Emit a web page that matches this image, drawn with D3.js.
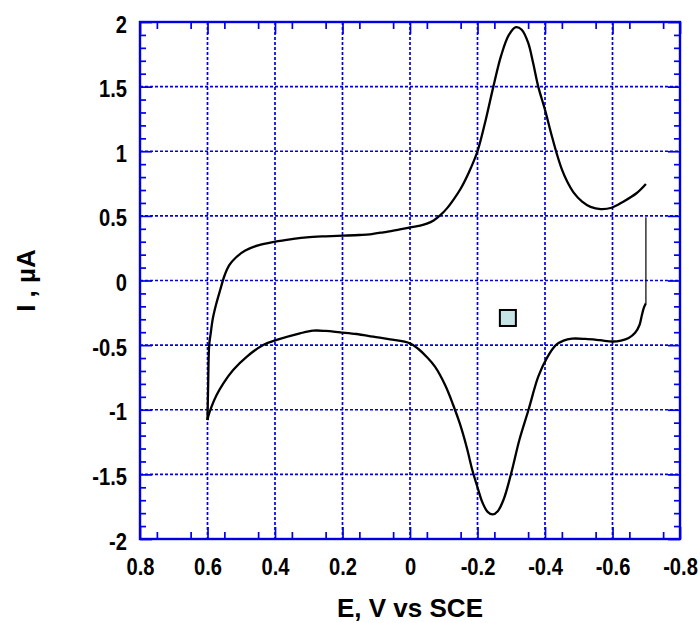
<!DOCTYPE html>
<html>
<head>
<meta charset="utf-8">
<script src="https://cdn.jsdelivr.net/npm/d3@7"></script>
<style>
  body { margin: 0; background: #fff; }
  svg text { font-family: "Liberation Sans", Arial, sans-serif; font-weight: bold; fill: #000; }
</style>
</head>
<body>
<div id="chart"></div>
<script>
// forward scan (0.6 V -> -0.7 V), potential and current
const fwdE = [0.600, 0.598, 0.595, 0.590, 0.585, 0.575, 0.562, 0.550, 0.535, 0.515, 0.488, 0.450,
  0.400, 0.350, 0.306, 0.250, 0.198, 0.150, 0.119, 0.079, 0.030, 0.000, -0.030, -0.050,
  -0.070, -0.090, -0.110, -0.130, -0.150, -0.175, -0.200, -0.225, -0.247, -0.270, -0.293,
  -0.314, -0.331, -0.350, -0.365, -0.380, -0.400, -0.420, -0.435, -0.450, -0.465, -0.485,
  -0.510, -0.535, -0.565, -0.597, -0.632, -0.671, -0.699];
const fwdI = [-1.08, -0.80, -0.50, -0.40, -0.305, -0.190, -0.070, 0.035, 0.120, 0.180, 0.232, 0.272,
  0.300, 0.320, 0.334, 0.342, 0.347, 0.352, 0.357, 0.373, 0.396, 0.410, 0.424, 0.440,
  0.465, 0.505, 0.560, 0.630, 0.710, 0.840, 1.000, 1.250, 1.500, 1.740, 1.900,
  1.960, 1.940, 1.840, 1.680, 1.500, 1.320, 1.120, 0.980, 0.860, 0.770, 0.680,
  0.610, 0.570, 0.553, 0.563, 0.610, 0.675, 0.747];

// reverse scan (-0.7 V -> 0.6 V)
const revE = [-0.699, -0.699, -0.693, -0.686, -0.680, -0.667, -0.648, -0.625, -0.600, -0.563,
  -0.520, -0.480, -0.455, -0.432, -0.405, -0.380, -0.351, -0.324, -0.301, -0.278, -0.260, -0.245,
  -0.230, -0.215, -0.200, -0.185, -0.168, -0.148, -0.128, -0.104, -0.074, -0.049, -0.025, 0.000,
  0.059, 0.109, 0.158, 0.207, 0.250, 0.287, 0.326, 0.395, 0.435, 0.484, 0.524, 0.553,
  0.573, 0.588, 0.598, 0.600];
const revI = [0.49, -0.176, -0.210, -0.280, -0.344, -0.405, -0.445, -0.465, -0.472, -0.462,
  -0.452, -0.450, -0.465, -0.500, -0.602, -0.744, -1.002, -1.234, -1.480, -1.690, -1.785, -1.810,
  -1.790, -1.720, -1.600, -1.470, -1.290, -1.110, -0.963, -0.809, -0.667, -0.590, -0.530, -0.486,
  -0.455, -0.435, -0.414, -0.401, -0.390, -0.388, -0.409, -0.460, -0.499, -0.590, -0.692, -0.795,
  -0.886, -0.976, -1.054, -1.080];

// marker inside the plot
const markerE = [-0.29];
const markerI = [-0.29];

const xTicks = [0.8, 0.6, 0.4, 0.2, 0, -0.2, -0.4, -0.6, -0.8];
const yTicks = [2, 1.5, 1, 0.5, 0, -0.5, -1, -1.5, -2];
const xMinor = d3.range(-16, 17).map(k => k * 0.05).filter(v => Math.abs(Math.round(v * 10) - v * 10) > 0.01);
const yMinor = d3.range(-20, 21).map(k => k * 0.1).filter(v => Math.abs(Math.round(v * 2) - v * 2) > 0.01);

const W = 700, H = 623;
const plot = { left: 140, right: 680, top: 22, bottom: 539 };
const blue = "#0000e6";
const squeeze = 0.84; // tick labels are tall and narrow in the original

const svg = d3.select("#chart").append("svg")
  .attr("width", W).attr("height", H);

const x = d3.scaleLinear().domain([0.8, -0.8]).range([plot.left, plot.right]);
const y = d3.scaleLinear().domain([-2, 2]).range([plot.bottom, plot.top]);

const fmt = d => String(+(+d).toFixed(1));

// dotted grid
const grid = svg.append("g");
grid.selectAll(".gx").data(xTicks.slice(1, -1)).enter().append("line")
  .attr("x1", d => x(d)).attr("x2", d => x(d))
  .attr("y1", plot.top).attr("y2", plot.bottom)
  .attr("stroke", blue).attr("stroke-width", 1.7).attr("stroke-dasharray", "3,2");
grid.selectAll(".gy").data(yTicks.slice(1, -1)).enter().append("line")
  .attr("y1", d => y(d)).attr("y2", d => y(d))
  .attr("x1", plot.left).attr("x2", plot.right)
  .attr("stroke", blue).attr("stroke-width", 1.7).attr("stroke-dasharray", "3,2");

function styleAxis(g) {
  g.select(".domain").remove();
  g.selectAll(".tick line").attr("stroke", blue).attr("stroke-width", 1.7);
}

// bottom axis with labels
svg.append("g").attr("transform", `translate(0,${plot.bottom})`)
  .call(d3.axisBottom(x).tickValues(xTicks).tickSizeInner(-12).tickSizeOuter(0).tickPadding(19).tickFormat(fmt))
  .call(styleAxis)
  .selectAll("text").attr("font-size", 24).attr("font-family", null)
  .attr("transform", `scale(${squeeze},1)`);
svg.append("g").attr("transform", `translate(0,${plot.bottom})`)
  .call(d3.axisBottom(x).tickValues(xMinor).tickSizeInner(-7).tickSizeOuter(0).tickFormat(""))
  .call(styleAxis);
// top axis
svg.append("g").attr("transform", `translate(0,${plot.top})`)
  .call(d3.axisTop(x).tickValues(xTicks).tickSizeInner(-12).tickSizeOuter(0).tickFormat(""))
  .call(styleAxis);
svg.append("g").attr("transform", `translate(0,${plot.top})`)
  .call(d3.axisTop(x).tickValues(xMinor).tickSizeInner(-7).tickSizeOuter(0).tickFormat(""))
  .call(styleAxis);

// left axis with labels
svg.append("g").attr("transform", `translate(${plot.left},0)`)
  .call(d3.axisLeft(y).tickValues(yTicks).tickSizeInner(-12).tickSizeOuter(0).tickPadding(13 / squeeze).tickFormat(fmt))
  .call(styleAxis)
  .selectAll("text").attr("font-size", 24).attr("font-family", null).attr("dy", "0.42em")
  .attr("transform", `scale(${squeeze},1)`);
svg.append("g").attr("transform", `translate(${plot.left},0)`)
  .call(d3.axisLeft(y).tickValues(yMinor).tickSizeInner(-6).tickSizeOuter(0).tickFormat(""))
  .call(styleAxis);
// right axis
svg.append("g").attr("transform", `translate(${plot.right},0)`)
  .call(d3.axisRight(y).tickValues(yTicks).tickSizeInner(-12).tickSizeOuter(0).tickFormat(""))
  .call(styleAxis);
svg.append("g").attr("transform", `translate(${plot.right},0)`)
  .call(d3.axisRight(y).tickValues(yMinor).tickSizeInner(-6).tickSizeOuter(0).tickFormat(""))
  .call(styleAxis);

// frame
svg.append("rect")
  .attr("x", plot.left).attr("y", plot.top)
  .attr("width", plot.right - plot.left).attr("height", plot.bottom - plot.top)
  .attr("fill", "none").attr("stroke", blue).attr("stroke-width", 2.4);

// voltammogram
const line = d3.line().x(d => x(d[0])).y(d => y(d[1])).curve(d3.curveCatmullRom);
const fwd = fwdE.map((e, i) => [e, fwdI[i]]);
const rev = revE.map((e, i) => [e, revI[i]]);

svg.append("path").datum(fwd).attr("d", line)
  .attr("fill", "none").attr("stroke", "#000").attr("stroke-width", 2.3);
// switching segment (thin)
svg.append("path").datum(rev.slice(0, 2)).attr("d", d3.line().x(d => x(d[0])).y(d => y(d[1])))
  .attr("fill", "none").attr("stroke", "#000").attr("stroke-width", 1.2);
svg.append("path").datum(rev.slice(1)).attr("d", line)
  .attr("fill", "none").attr("stroke", "#000").attr("stroke-width", 2.3);

// marker
svg.selectAll(".marker").data(markerE).enter().append("rect")
  .attr("x", (d, i) => x(d) - 8).attr("y", (d, i) => y(markerI[i]) - 8)
  .attr("width", 16).attr("height", 16)
  .attr("fill", "#c6e4e6").attr("stroke", "#000").attr("stroke-width", 2);

// axis titles
svg.append("text")
  .attr("x", (plot.left + plot.right) / 2).attr("y", 617)
  .attr("text-anchor", "middle").attr("font-size", 26)
  .text("E, V vs SCE");
svg.append("text")
  .attr("transform", `translate(35,${(plot.top + plot.bottom) / 2}) rotate(-90)`)
  .attr("text-anchor", "middle").attr("font-size", 26)
  .text("I , µA");
</script>
</body>
</html>
